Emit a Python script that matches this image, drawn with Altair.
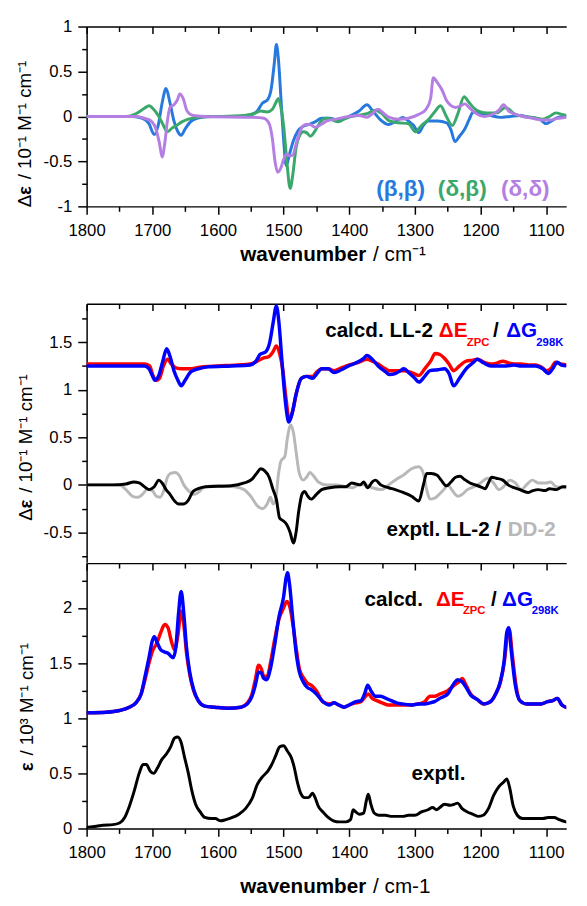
import altair as alt
import pandas as pd

FONT = "Liberation Sans"
W = 488
H_TOP, H_MID, H_BOT = 183, 263, 270
GAP_TOP = 98
XDOM = [1800 - W * 750 / 501, 1800]

BLUE_T = "#2779dd"
GREEN_T = "#3aa86a"
PURPLE_T = "#b47ee2"
RED = "#ff0000"
BLUE = "#0000ff"
GRAY = "#b8b8b8"

# ---------------- top panel: (beta,beta), (delta,beta), (delta,delta) ----------------
bb_wn = [1800, 1730, 1715, 1705, 1697, 1691, 1685, 1679, 1673, 1667, 1661, 1656, 1650, 1642, 1632, 1615, 1570, 1550,
         1540, 1532, 1525, 1519, 1514, 1511, 1508, 1504, 1500, 1496, 1491, 1485, 1478, 1470, 1462, 1452, 1442, 1430,
         1417, 1400, 1385, 1373, 1364, 1352, 1340, 1328, 1318, 1310, 1302, 1294, 1287, 1280, 1265, 1252, 1245, 1239,
         1232, 1224, 1217, 1211, 1200, 1185, 1170, 1155, 1140, 1125, 1110, 1100, 1092, 1082, 1070, 1050]
bb_v = [0, 0, -0.02, -0.08, -0.2, -0.1, 0.15, 0.31, 0.15, -0.05, -0.17, -0.21, -0.14, -0.06, -0.02, 0, 0, 0.02,
        0.06, 0.15, 0.18, 0.3, 0.6, 0.8, 0.65, 0.2, -0.25, -0.55, -0.42, -0.27, -0.16, -0.11, -0.09, -0.06, -0.02, -0.02,
        -0.04, 0, 0.06, 0.13, 0.06, -0.04, -0.09, -0.05, -0.01, -0.05, -0.1, -0.18, -0.1, -0.05, -0.05, -0.07, -0.15, -0.28,
        -0.22, -0.14, -0.03, 0.05, 0.03, 0.01, -0.01, 0, 0.01, -0.01, -0.03, -0.08, -0.05, -0.01, 0, 0]

db_wn = [1800, 1740, 1725, 1712, 1705, 1698, 1690, 1683, 1677, 1670, 1663, 1655, 1645, 1630, 1600, 1560, 1545, 1535,
         1525, 1517, 1512, 1508, 1504, 1500, 1495, 1490, 1486, 1481, 1476, 1470, 1465, 1459, 1452, 1444, 1435, 1425,
         1417, 1405, 1390, 1373, 1360, 1350, 1339, 1325, 1310, 1299, 1290, 1280, 1270, 1261, 1252, 1243, 1235, 1225,
         1218, 1211, 1200, 1190, 1175, 1162, 1155, 1149, 1135, 1121, 1105, 1095, 1085, 1075, 1050]
db_v = [0, 0, 0.03, 0.09, 0.12, 0.08, 0.0, -0.1, -0.17, -0.13, -0.1, -0.06, -0.03, -0.01, 0, 0.01, 0.03, 0.06,
        0.05, 0.08, 0.15, 0.2, 0.1, -0.1, -0.5, -0.8, -0.65, -0.35, -0.22, -0.17, -0.18, -0.22, -0.16, -0.06, -0.02, -0.04,
        -0.06, -0.02, 0.01, 0.03, 0.07, 0.03, -0.05, -0.07, -0.08, -0.17, -0.1, -0.04, 0.05, 0.12, 0.0, -0.1, 0.02, 0.22,
        0.16, 0.1, 0.05, 0.04, 0.04, 0.1, 0.07, 0.03, 0.0, -0.01, -0.03, 0, 0.04, 0.02, 0]

dd_wn = [1800, 1725, 1712, 1702, 1694, 1689, 1685, 1681, 1677, 1673, 1667, 1662, 1658, 1653, 1647, 1638, 1620, 1545,
         1530, 1522, 1517, 1513, 1509, 1504, 1500, 1495, 1490, 1486, 1480, 1474, 1466, 1460, 1452, 1443, 1434, 1420,
         1400, 1385, 1373, 1365, 1356, 1347, 1339, 1325, 1310, 1295, 1283, 1276, 1272, 1266, 1259, 1252, 1245, 1238,
         1230, 1224, 1216, 1208, 1194, 1180, 1172, 1165, 1157, 1149, 1135, 1121, 1105, 1095, 1082, 1070, 1050]
dd_v = [0, 0, -0.02, -0.05, -0.15, -0.3, -0.45, -0.3, -0.05, 0.1, 0.13, 0.18, 0.25, 0.2, 0.06, 0.01, 0, -0.01,
        -0.02, -0.08, -0.25, -0.5, -0.62, -0.57, -0.48, -0.42, -0.44, -0.43, -0.28, -0.15, -0.09, -0.09, -0.12, -0.09, -0.05, -0.03,
        0.0, 0.01, -0.01, 0.03, 0.08, 0.03, -0.01, -0.03, -0.02, 0.02, 0.08, 0.2, 0.43, 0.38, 0.3, 0.18, 0.12, 0.1,
        0.12, 0.14, 0.09, 0.04, 0.0, 0.03, 0.07, 0.13, 0.06, 0.03, 0.0, -0.02, -0.04, -0.04, -0.02, -0.01, 0]

# ---------------- middle panel: calcd. LL-2 (dE_ZPC, dG_298K), exptl. LL-2 / DD-2 ----------------
me_wn = [1800, 1712, 1704, 1699, 1694, 1689, 1683, 1677, 1671, 1664, 1655, 1641, 1625, 1600, 1570, 1551, 1540, 1532,
         1522, 1516, 1511, 1506, 1501, 1497, 1491, 1486, 1480, 1473, 1465, 1456, 1449, 1442, 1432, 1423, 1412, 1400,
         1385, 1373, 1365, 1356, 1345, 1339, 1328, 1317, 1305, 1294, 1285, 1276, 1269, 1262, 1255, 1248, 1241, 1232,
         1222, 1212, 1205, 1195, 1184, 1175, 1166, 1157, 1149, 1138, 1127, 1116, 1108, 1099, 1092, 1086, 1078, 1065, 1050]
me_v = [1.27, 1.27, 1.25, 1.15, 1.1, 1.12, 1.25, 1.32, 1.27, 1.23, 1.22, 1.22, 1.24, 1.25, 1.26, 1.27, 1.3, 1.33,
        1.35, 1.4, 1.46, 1.38, 1.2, 0.95, 0.68, 0.78, 0.98, 1.12, 1.14, 1.14, 1.19, 1.22, 1.22, 1.2, 1.23, 1.26,
        1.29, 1.32, 1.3, 1.27, 1.22, 1.2, 1.2, 1.2, 1.18, 1.15, 1.22, 1.3, 1.38, 1.37, 1.33, 1.27, 1.2, 1.25,
        1.3, 1.31, 1.32, 1.29, 1.27, 1.28, 1.3, 1.28, 1.27, 1.27, 1.26, 1.26, 1.24, 1.2, 1.23, 1.29, 1.27, 1.26, 1.27]

mg_wn = [1800, 1712, 1705, 1700, 1696, 1690, 1684, 1678, 1673, 1667, 1661, 1656, 1650, 1641, 1630, 1615, 1580, 1551,
         1542, 1536, 1527, 1521, 1516, 1511, 1507, 1503, 1499, 1496, 1492, 1487, 1481, 1473, 1465, 1456, 1449, 1442,
         1432, 1423, 1412, 1401, 1387, 1378, 1373, 1365, 1356, 1345, 1339, 1330, 1322, 1317, 1308, 1300, 1294, 1285,
         1277, 1265, 1255, 1248, 1241, 1232, 1222, 1212, 1205, 1195, 1184, 1172, 1161, 1149, 1138, 1127, 1116, 1105,
         1097, 1090, 1083, 1077, 1065, 1050]
mg_v = [1.25, 1.25, 1.22, 1.15, 1.1, 1.15, 1.3, 1.43, 1.35, 1.2, 1.1, 1.04, 1.1, 1.19, 1.22, 1.24, 1.25, 1.26,
        1.3, 1.37, 1.4, 1.5, 1.7, 1.88, 1.7, 1.35, 1.0, 0.8, 0.66, 0.75, 0.95, 1.12, 1.14, 1.12, 1.17, 1.22,
        1.22, 1.18, 1.21, 1.25, 1.29, 1.33, 1.36, 1.32, 1.25, 1.19, 1.16, 1.17, 1.2, 1.22, 1.17, 1.12, 1.08, 1.14,
        1.2, 1.21, 1.22, 1.17, 1.04, 1.12, 1.22, 1.28, 1.32, 1.28, 1.25, 1.25, 1.25, 1.26, 1.25, 1.25, 1.25, 1.22,
        1.17, 1.22, 1.29, 1.26, 1.25, 1.24]

ll_wn = [1800, 1760, 1740, 1728, 1720, 1710, 1705, 1697, 1690, 1685, 1679, 1673, 1666, 1660, 1652, 1645, 1638, 1630,
         1618, 1580, 1560, 1548, 1540, 1535, 1529, 1522, 1516, 1511, 1506, 1500, 1495, 1490, 1485, 1481, 1477, 1472,
         1468, 1463, 1458, 1450, 1442, 1430, 1415, 1405, 1396, 1390, 1383, 1378, 1372, 1365, 1360, 1352, 1340, 1330,
         1318, 1305, 1294, 1287, 1282, 1275, 1266, 1260, 1252, 1245, 1238, 1231, 1225, 1216, 1208, 1200, 1193, 1188,
         1183, 1176, 1166, 1158, 1149, 1140, 1128, 1120, 1112, 1102, 1095, 1085, 1075, 1060, 1050]
ll_v = [0, 0, 0.01, 0.03, 0.02, -0.03, -0.05, -0.02, 0.05, 0.02, -0.05, -0.1, -0.17, -0.2, -0.2, -0.16, -0.07, -0.04,
        -0.02, -0.01, 0.02, 0.06, 0.13, 0.17, 0.15, 0.08, -0.05, -0.15, -0.35, -0.38, -0.42, -0.5, -0.61, -0.5, -0.28, -0.1,
        -0.07, -0.12, -0.15, -0.1, -0.05, -0.03, -0.02, -0.02, 0.02, 0.01, 0.0, 0.03, -0.03, 0.03, 0.05, 0.0, -0.03, -0.05,
        -0.08, -0.12, -0.17, 0.0, 0.12, 0.12, 0.1, 0.05, -0.01, 0.03, 0.08, 0.09, 0.06, 0.02, 0.0, -0.02, -0.04, 0.02,
        0.08, 0.07, 0.05, 0.0, -0.03, -0.05, -0.08, -0.06, -0.05, -0.06, -0.04, -0.05, -0.02, -0.02, -0.02]

ddx_wn = [1800, 1750, 1740, 1730, 1722, 1715, 1708, 1700, 1694, 1688, 1682, 1677, 1672, 1665, 1659, 1652, 1645, 1637,
          1630, 1620, 1600, 1575, 1560, 1550, 1540, 1532, 1525, 1520, 1516, 1512, 1508, 1504, 1498, 1494, 1489, 1485,
          1481, 1476, 1470, 1465, 1460, 1455, 1447, 1435, 1420, 1405, 1395, 1385, 1375, 1365, 1350, 1340, 1328, 1318,
          1305, 1294, 1287, 1282, 1277, 1270, 1263, 1256, 1250, 1243, 1234, 1228, 1220, 1210, 1200, 1189, 1180, 1172,
          1165, 1155, 1147, 1138, 1130, 1121, 1112, 1100, 1093, 1085, 1071, 1060, 1050]
ddx_v = [0, 0, -0.05, -0.12, -0.13, -0.1, -0.05, -0.06, -0.12, -0.13, -0.05, 0.08, 0.12, 0.13, 0.1, 0.0, -0.06, -0.1,
         -0.08, -0.02, -0.01, -0.02, -0.05, -0.12, -0.22, -0.25, -0.2, -0.13, -0.2, -0.15, 0.1, 0.25, 0.3, 0.5, 0.63, 0.55,
         0.35, 0.12, 0.05, 0.08, 0.13, 0.1, 0.03, 0.0, 0.0, -0.02, -0.03, 0.0, 0.0, -0.03, -0.05, 0.0, 0.06, 0.1,
         0.17, 0.19, 0.12, -0.05, -0.15, -0.14, -0.1, -0.05, 0.0, -0.06, -0.12, -0.1, -0.05, -0.02, 0.02, 0.07, 0.02, -0.05,
         -0.02, 0.05, 0.02, -0.05, 0.0, 0.05, 0.02, 0.02, 0.03, -0.02, -0.03, 0.02, 0.02]

# ---------------- bottom panel: IR, calcd. dE_ZPC / dG_298K and exptl. ----------------
be_wn = [1800, 1770, 1750, 1735, 1725, 1717, 1711, 1705, 1699, 1693, 1687, 1681, 1676, 1671, 1666, 1661, 1656, 1652,
         1648, 1643, 1637, 1630, 1620, 1605, 1585, 1565, 1555, 1548, 1543, 1538, 1534, 1530, 1525, 1520, 1514, 1507,
         1500, 1495, 1490, 1485, 1480, 1476, 1470, 1464, 1458, 1450, 1440, 1430, 1423, 1416, 1408, 1400, 1390, 1382,
         1375, 1371, 1365, 1358, 1350, 1340, 1330, 1320, 1305, 1295, 1285, 1277, 1270, 1262, 1250, 1240, 1233, 1228,
         1222, 1215, 1205, 1195, 1185, 1177, 1170, 1164, 1159, 1156, 1152, 1146, 1140, 1130, 1118, 1108, 1098, 1090,
         1083, 1076, 1065, 1050]
be_v = [1.05, 1.055, 1.07, 1.1, 1.14, 1.22, 1.35, 1.5, 1.62, 1.68, 1.78, 1.85, 1.82, 1.7, 1.62, 1.75, 1.97, 1.85,
        1.6, 1.4, 1.25, 1.16, 1.11, 1.1, 1.09, 1.1, 1.14, 1.22, 1.35, 1.48, 1.45, 1.38, 1.38, 1.5, 1.7, 1.9,
        2.0, 2.06, 2.0, 1.82, 1.6, 1.45, 1.37, 1.32, 1.3, 1.25, 1.15, 1.13, 1.14, 1.12, 1.1, 1.12, 1.14, 1.15,
        1.2, 1.22, 1.18, 1.16, 1.14, 1.12, 1.12, 1.12, 1.12, 1.13, 1.15, 1.2, 1.2, 1.22, 1.25, 1.3, 1.33, 1.36,
        1.3, 1.22, 1.17, 1.13, 1.15, 1.22, 1.32, 1.5, 1.75, 1.8, 1.6, 1.3, 1.16, 1.13, 1.13, 1.13, 1.15, 1.16,
        1.18, 1.12, 1.09, 1.08]

bg_wn = [1800, 1770, 1750, 1735, 1725, 1717, 1711, 1705, 1700, 1697, 1692, 1687, 1681, 1676, 1671, 1668, 1664, 1660,
         1656, 1652, 1648, 1643, 1637, 1630, 1620, 1605, 1585, 1565, 1555, 1548, 1543, 1538, 1534, 1530, 1526, 1520,
         1514, 1507, 1500, 1496, 1494, 1491, 1486, 1481, 1476, 1470, 1464, 1458, 1450, 1440, 1430, 1423, 1416, 1408,
         1400, 1390, 1382, 1376, 1372, 1366, 1360, 1352, 1344, 1336, 1328, 1320, 1305, 1295, 1285, 1277, 1270, 1262,
         1250, 1240, 1235, 1228, 1222, 1215, 1205, 1195, 1185, 1177, 1170, 1164, 1160, 1157, 1153, 1147, 1140, 1130,
         1118, 1108, 1098, 1090, 1083, 1076, 1065, 1050]
bg_v = [1.05, 1.055, 1.07, 1.1, 1.14, 1.22, 1.38, 1.55, 1.7, 1.74, 1.68, 1.62, 1.6, 1.59, 1.56, 1.55, 1.65, 1.95,
        2.15, 1.95, 1.65, 1.42, 1.26, 1.16, 1.11, 1.1, 1.09, 1.1, 1.13, 1.2, 1.3, 1.42, 1.41, 1.36, 1.35, 1.45,
        1.65, 1.92, 2.1, 2.28, 2.32, 2.22, 1.9, 1.6, 1.42, 1.33, 1.28, 1.26, 1.22, 1.15, 1.12, 1.14, 1.12, 1.1,
        1.12, 1.15, 1.16, 1.23, 1.3, 1.24, 1.2, 1.2, 1.18, 1.16, 1.14, 1.13, 1.12, 1.13, 1.13, 1.14, 1.15, 1.18,
        1.22, 1.32, 1.35, 1.33, 1.28, 1.21, 1.17, 1.13, 1.15, 1.22, 1.33, 1.52, 1.78, 1.82, 1.6, 1.3, 1.16, 1.13,
        1.13, 1.13, 1.15, 1.16, 1.18, 1.12, 1.09, 1.08]

ex_wn = [1800, 1785, 1775, 1760, 1750, 1742, 1735, 1727, 1720, 1714, 1709, 1703, 1698, 1692, 1686, 1678, 1672, 1666,
         1661, 1656, 1651, 1645, 1640, 1634, 1627, 1620, 1610, 1604, 1596, 1588, 1578, 1568, 1558, 1548, 1540, 1532,
         1524, 1518, 1512, 1506, 1500, 1494, 1488, 1484, 1479, 1474, 1468, 1462, 1456, 1452, 1447, 1440, 1432, 1424,
         1415, 1405, 1398, 1394, 1390, 1385, 1378, 1374, 1371, 1367, 1362, 1355, 1345, 1335, 1325, 1318, 1310, 1300,
         1290, 1280, 1273, 1267, 1262, 1255, 1246, 1240, 1235, 1228, 1220, 1212, 1204, 1196, 1188, 1180, 1172, 1165,
         1160, 1156, 1150, 1144, 1136, 1125, 1115, 1105, 1097, 1088, 1080, 1070, 1060, 1050]
ex_v = [0.01, 0.02, 0.03, 0.035, 0.05, 0.1, 0.2, 0.35, 0.5, 0.58, 0.58, 0.52, 0.5, 0.55, 0.62, 0.68, 0.74, 0.82,
        0.83, 0.78, 0.65, 0.5, 0.35, 0.22, 0.15, 0.1, 0.09, 0.09, 0.07, 0.08, 0.1, 0.13, 0.18, 0.27, 0.4, 0.47,
        0.52, 0.58, 0.66, 0.74, 0.75, 0.7, 0.64, 0.56, 0.42, 0.32, 0.28, 0.28, 0.32, 0.28, 0.2, 0.15, 0.1, 0.07,
        0.06, 0.06, 0.08, 0.17, 0.15, 0.13, 0.14, 0.25, 0.31, 0.22, 0.14, 0.12, 0.12, 0.11, 0.11, 0.11, 0.12, 0.12,
        0.15, 0.17, 0.19, 0.17, 0.19, 0.22, 0.21, 0.22, 0.23, 0.18, 0.15, 0.13, 0.11, 0.12, 0.18, 0.3, 0.38, 0.42,
        0.45, 0.38, 0.2, 0.12, 0.09, 0.09, 0.09, 0.09, 0.1, 0.1, 0.08, 0.06, 0.05, 0.06]

# ---------------- text labels: (text, wavenumber, value, colour, font size, align) ----------------
ann_top = [("(β,β)", 1359, -0.81, BLUE_T, 23, "left"), ("(δ,β)", 1265, -0.81, GREEN_T, 23, "left"),
           ("(δ,δ)", 1169, -0.81, PURPLE_T, 23, "left")]
ann_mid = [("calcd. LL-2", 1272.5, 1.552, "black", 21, "right"), ("ΔE", 1263.5, 1.552, RED, 21, "left"),
           ("ZPC", 1221, 1.46, RED, 11.5, "left"), ("/", 1181, 1.552, "black", 21, "left"),
           ("ΔG", 1161, 1.552, BLUE, 21, "left"), ("298K", 1115, 1.46, BLUE, 11.5, "left"),
           ("exptl. LL-2 /", 1168.7, -0.54, "black", 21, "right"), ("DD-2", 1158.7, -0.54, GRAY, 21, "left")]
ann_bot = [("calcd.", 1287.7, 2.018, "black", 21, "right"), ("ΔE", 1268, 2.018, RED, 21, "left"),
           ("ZPC", 1226.8, 1.947, RED, 11.5, "left"), ("/", 1184, 2.018, "black", 21, "left"),
           ("ΔG", 1167.2, 2.018, BLUE, 21, "left"), ("298K", 1122, 1.947, BLUE, 11.5, "left"),
           ("exptl.", 1305, 0.44, "black", 21, "left")]

# y-axis titles, split so that the epsilon can be bold
UNIT_D = "/ 10⁻¹ M⁻¹ cm⁻¹"
UNIT_B = "/ 10³ M⁻¹ cm⁻¹"

YT_VALS = [-1 + 0.25 * i for i in range(9)]
YM_VALS = [-0.75 + 0.25 * i for i in range(11)]
YB_VALS = [0.25 * i for i in range(10)]
XVALS = list(range(1100, 1801, 50))
MAJX = "datum.value % 100 == 0"
MAJY = "abs(datum.value % 0.5) < 0.001"


def cond(test, big, small):
    return {"condition": {"test": test, "value": big}, "value": small}


def sdf(wn, v):
    return pd.DataFrame({"wn": wn, "v": v})


def adf(rows):
    return pd.DataFrame(rows, columns=["t", "wn", "v", "c", "s", "al"])


xscale = alt.Scale(domain=XDOM, reverse=True, nice=False, zero=False)
AX = dict(tickColor="black", tickWidth=1.5, domainColor="black", domainWidth=1.5, grid=False,
          labelFlush=False, labelFontSize=17, labelFont=FONT, labelColor="black")


def ax_x_main():
    return alt.Axis(values=XVALS, labelExpr=f"{MAJX} ? '' + datum.value : ''", tickSize=cond(MAJX, 8, 5),
                    labelPadding=9, domain=True, title=None, **AX)


def ax_x_in(h):
    return alt.Axis(orient="bottom", offset=-h, values=XVALS, labels=False, tickSize=cond(MAJX, 7, 5),
                    domain=True, title=None, **AX)


def ax_y_main(vals):
    return alt.Axis(values=vals, labelExpr=f"{MAJY} ? '' + datum.value : ''", tickSize=cond(MAJY, 9, 5),
                    labelPadding=6, domain=True, title=None, **AX)


def line(d, color, X, Y, width=3.0):
    return alt.Chart(d).mark_line(color=color, strokeWidth=width, interpolate="monotone", clip=True,
                                  strokeCap="round", strokeJoin="round").encode(x=X, y=Y)


def texts(rows, X, Y, baseline):
    d = adf(rows)
    out = []
    for al in ["left", "right"]:
        sub = d[d["al"] == al]
        if len(sub):
            out.append(alt.Chart(sub).mark_text(align=al, baseline=baseline, fontWeight="bold", font=FONT).encode(
                x=X, y=Y, text="t:N", color=alt.Color("c:N", scale=None), size=alt.Size("s:Q", scale=None)))
    return out


def ptext(txt, x, y, weight="normal", size=21, align="left", angle=0, baseline="alphabetic"):
    return alt.Chart(pd.DataFrame({"t": [txt]})).mark_text(
        align=align, baseline=baseline, fontWeight=weight, fontSize=size, font=FONT, color="black",
        angle=angle).encode(x=alt.value(x), y=alt.value(y), text="t:N")


def xtitle(h, unit, dy):
    return [ptext("wavenumber", 284.5, h + dy, "bold", 21, "right"),
            ptext(unit, 291.5, h + dy, "normal", 21, "left")]


def ytitle(x, y0, delta, unit):
    parts = []
    y = y0
    if delta:
        parts.append(ptext("Δ", x, y, "normal", 19, "left", 270, "middle"))
        y -= 12.7
    parts.append(ptext("ε", x, y, "bold", 19, "left", 270, "middle"))
    y -= 10.6 + 5.3
    parts.append(ptext(unit, x, y, "normal", 19, "left", 270, "middle"))
    return parts


# ---- top panel ----
ys_top = alt.Scale(domain=[-1, 1], nice=False, zero=False)
Xt = alt.X("wn:Q", scale=xscale, axis=ax_x_main())
Yt = alt.Y("v:Q", scale=ys_top, axis=ax_y_main(YT_VALS))
spacer = alt.Chart(pd.DataFrame({"a": [0]})).mark_rule(opacity=0).encode(
    x=alt.value(0), y=alt.value(H_TOP), y2=alt.value(H_TOP + GAP_TOP))
inner_top = alt.layer(
    line(sdf(bb_wn, bb_v), BLUE_T, Xt, Yt),
    line(sdf(db_wn, db_v), GREEN_T, Xt, Yt),
    line(sdf(dd_wn, dd_v), PURPLE_T, Xt, Yt),
    *texts(ann_top, Xt, Yt, "middle"),
    *xtitle(H_TOP, "/ cm⁻¹", 56),
    *ytitle(-62.5, 184, True, UNIT_D),
    spacer,
)
mirror_top = alt.Chart(sdf(bb_wn, bb_v)).mark_line(opacity=0).encode(
    x=alt.X("wn:Q", scale=xscale, axis=ax_x_in(H_TOP)),
    y=alt.Y("v:Q", scale=ys_top, axis=ax_y_main(YT_VALS)))
top = alt.layer(inner_top, mirror_top).resolve_axis(x="independent").properties(width=W, height=H_TOP)

# ---- middle panel ----
ys_mid = alt.Scale(domain=[-0.812, 1.904], nice=False, zero=False)
Xm = alt.X("wn:Q", scale=xscale, axis=ax_x_in(H_MID))
Ym = alt.Y("v:Q", scale=ys_mid, axis=ax_y_main(YM_VALS))
mid = alt.layer(
    line(sdf(me_wn, me_v), RED, Xm, Ym, 3.5),
    line(sdf(mg_wn, mg_v), BLUE, Xm, Ym, 3.5),
    line(sdf(ddx_wn, ddx_v), GRAY, Xm, Ym, 3.0),
    line(sdf(ll_wn, ll_v), "black", Xm, Ym, 3.0),
    *texts(ann_mid, Xm, Ym, "alphabetic"),
    *ytitle(-62, 221, True, UNIT_D),
).properties(width=W, height=H_MID)

# ---- bottom panel ----
ys_bot = alt.Scale(domain=[0, 2.407], nice=False, zero=False)
Xb = alt.X("wn:Q", scale=xscale, axis=ax_x_main())
Yb = alt.Y("v:Q", scale=ys_bot, axis=ax_y_main(YB_VALS))
inner_bot = alt.layer(
    line(sdf(be_wn, be_v), RED, Xb, Yb, 3.5),
    line(sdf(bg_wn, bg_v), BLUE, Xb, Yb, 3.5),
    line(sdf(ex_wn, ex_v), "black", Xb, Yb, 3.0),
    *texts(ann_bot, Xb, Yb, "alphabetic"),
    *xtitle(H_BOT, "/ cm-1", 66),
    *ytitle(-60.3, 211.7, False, UNIT_B),
)
mirror_bot = alt.Chart(sdf(ex_wn, ex_v)).mark_line(opacity=0).encode(
    x=alt.X("wn:Q", scale=xscale, axis=ax_x_in(H_BOT)),
    y=alt.Y("v:Q", scale=ys_bot, axis=ax_y_main(YB_VALS)))
bot = alt.layer(inner_bot, mirror_bot).resolve_axis(x="independent").properties(width=W, height=H_BOT)

chart = alt.vconcat(top, mid, bot, spacing=0).properties(
    padding={"left": 8, "top": 2, "right": 0, "bottom": 0}
).configure_view(strokeOpacity=0).configure_axis(labelFont=FONT, titleFont=FONT)

chart.save("out.html", embed_options={"renderer": "svg", "actions": False})
